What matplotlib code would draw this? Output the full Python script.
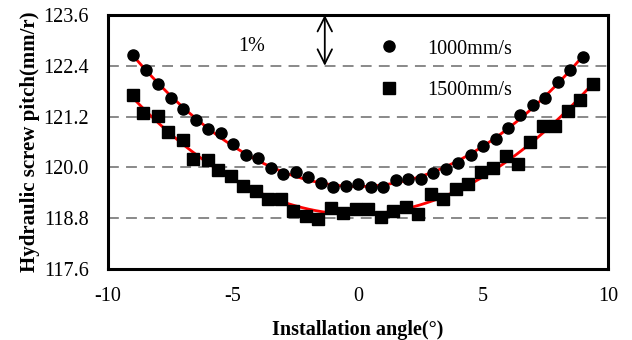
import numpy as np
import matplotlib
matplotlib.use("Agg")
import matplotlib.pyplot as plt

plt.rcParams['font.family'] = ['Liberation Serif', 'DejaVu Serif']
plt.rcParams['axes.unicode_minus'] = False

# 1000mm/s series (circles)
x1000 = [-9, -8.5, -8, -7.5, -7, -6.5, -6, -5.5, -5, -4.5, -4, -3.5, -3, -2.5, -2, -1.5, -1, -0.5,
         0, 0.5, 1, 1.5, 2, 2.5, 3, 3.5, 4, 4.5, 5, 5.5, 6, 6.5, 7, 7.5, 8, 8.5, 9]
y1000 = [122.65, 122.30, 121.96, 121.65, 121.39, 121.13, 120.91, 120.80, 120.56, 120.28, 120.22,
         119.98, 119.85, 119.88, 119.77, 119.62, 119.53, 119.55, 119.60, 119.53, 119.53, 119.69,
         119.73, 119.73, 119.86, 119.96, 120.10, 120.28, 120.50, 120.68, 120.94, 121.23, 121.47,
         121.64, 122.02, 122.31, 122.61]

# 1500mm/s series (squares)
x1500 = [-9, -8.6, -8, -7.6, -7, -6.6, -6, -5.6, -5.1, -4.6, -4.1, -3.6, -3.1, -2.6, -2.1, -1.6,
         -1.1, -0.6, -0.1, 0.4, 0.9, 1.4, 1.9, 2.4, 2.9, 3.4, 3.9, 4.4, 4.9, 5.4, 5.9, 6.4, 6.9,
         7.4, 7.9, 8.4, 8.9, 9.4]
y1500 = [121.72, 121.29, 121.21, 120.83, 120.64, 120.19, 120.17, 119.93, 119.79, 119.57, 119.43,
         119.26, 119.26, 118.96, 118.84, 118.78, 119.04, 118.93, 119.02, 119.01, 118.82, 118.96,
         119.06, 118.90, 119.38, 119.26, 119.49, 119.61, 119.89, 119.98, 120.26, 120.09, 120.60,
         120.97, 120.97, 121.33, 121.59, 121.96]

yticks = [117.6, 118.8, 120.0, 121.2, 122.4, 123.6]
xticks = [-10, -5, 0, 5, 10]

fig = plt.figure(figsize=(6.32, 3.4), dpi=100)
ax = fig.add_axes([0.171, 0.209, 0.791, 0.747])

# dashed grid lines
for g in yticks[1:-1]:
    ax.axhline(g, color='#808080', lw=1.3, ls=(0, (6, 4)), zorder=0)

# quadratic trend lines (like an Excel trendline)
for xs, ys in [(x1000, y1000), (x1500, y1500)]:
    c = np.polyfit(xs, ys, 2)
    xx = np.linspace(min(xs), max(xs), 200)
    ax.plot(xx, np.polyval(c, xx), color='red', lw=2, zorder=2)

ax.plot(x1000, y1000, 'o', color='black', ms=8, ls='none', label='1000mm/s', zorder=3)
ax.plot(x1500, y1500, 's', color='black', ms=8, ls='none', label='1500mm/s', zorder=3)

ax.set_xlim(-10, 10)
ax.set_ylim(117.6, 123.6)
ax.set_xticks(xticks)
ax.set_yticks(yticks)
ax.set_yticklabels(['%.1f' % v for v in yticks])
ax.tick_params(axis='both', length=0, labelsize=14.5)
ax.tick_params(axis='x', pad=13)
ax.tick_params(axis='y', pad=14)
for s in ax.spines.values():
    s.set_linewidth(2.2)

ax.set_xlabel('Installation angle(°)', fontsize=14.5, fontweight='bold', labelpad=10)
ax.set_ylabel('Hydraulic screw pitch(mm/r)', fontsize=15, fontweight='bold', labelpad=2)

leg = ax.legend(loc='upper left', bbox_to_anchor=(0.505, 0.975), frameon=False, fontsize=14.5,
                labelspacing=1.1, handletextpad=1.4, handlelength=1.0)

ax.text(-4.26, 122.85, '1%', fontsize=14.5, ha='center', va='center')
ax.annotate('', xy=(-1.33, 123.6), xytext=(-1.33, 122.4),
            arrowprops=dict(arrowstyle='<->', color='black', lw=1.3, mutation_scale=26,
                            shrinkA=0, shrinkB=0))

fig.savefig('out.png', dpi=100)
